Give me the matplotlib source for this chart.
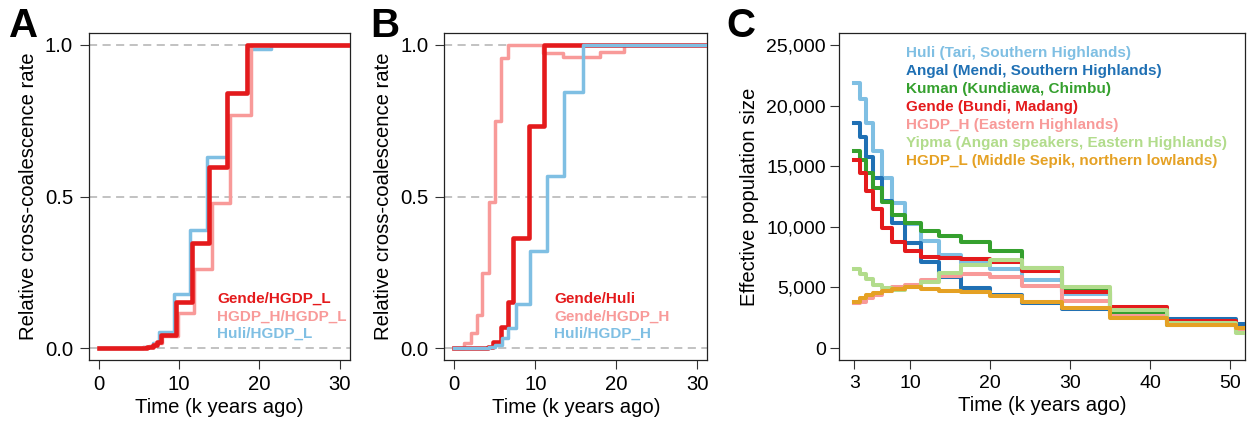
import matplotlib
matplotlib.use("Agg")
import matplotlib.pyplot as plt
import numpy as np

plt.rcParams['font.family'] = ['Liberation Sans', 'DejaVu Sans']

# ---------------- Panel A: relative cross-coalescence rate vs lowland group
a_gende_t = [0, 5.0, 6.0, 6.7, 7.3, 7.7, 9.6, 11.6, 13.7, 16.0, 18.5, 33]
a_gende_v = [0, 0.001, 0.004, 0.01, 0.02, 0.043, 0.151, 0.348, 0.598, 0.843, 1.0, 1.0]
a_hgdph_t = [0, 5.5, 6.3, 7.0, 7.9, 9.8, 11.85, 14.1, 16.3, 18.9, 33]
a_hgdph_v = [0, 0.003, 0.008, 0.018, 0.04, 0.114, 0.26, 0.478, 0.769, 1.0, 1.0]
a_huli_t = [0, 5.5, 6.4, 6.8, 7.5, 9.4, 11.36, 13.5, 16.0, 18.5, 21.4, 33]
a_huli_v = [0, 0.003, 0.008, 0.016, 0.052, 0.178, 0.389, 0.631, 0.84, 0.987, 1.0, 1.0]
a_labels = ["Gende/HGDP_L", "HGDP_H/HGDP_L", "Huli/HGDP_L"]

# ---------------- Panel B: highland pairs
b_gende_huli_t = [0, 3.5, 4.2, 4.8, 5.77, 6.6, 7.3, 9.26, 11.1, 33]
b_gende_huli_v = [0, 0.001, 0.004, 0.021, 0.068, 0.153, 0.362, 0.733, 1.0, 1.0]
b_gende_hgdph_t = [0, 1.2, 2.06, 2.76, 3.46, 4.24, 5.02, 5.77, 6.59, 11.0, 13.4, 18.0, 20.9, 33]
b_gende_hgdph_v = [0, 0.015, 0.048, 0.109, 0.247, 0.483, 0.749, 0.956, 1.0, 0.975, 0.961, 0.978, 1.0, 1.0]
b_huli_hgdph_t = [0, 3.5, 4.3, 5.0, 5.85, 6.67, 7.6, 9.35, 11.4, 13.6, 15.85, 33]
b_huli_hgdph_v = [0, 0.001, 0.004, 0.01, 0.034, 0.065, 0.145, 0.32, 0.568, 0.846, 1.0, 1.0]
b_labels = ["Gende/Huli", "Gende/HGDP_H", "Huli/HGDP_H"]

# ---------------- Panel C: effective population size
c_time = [3.0, 3.68, 4.52, 5.37, 6.43, 7.70, 9.39, 11.30, 13.63, 16.38,
          19.94, 24.0, 28.95, 35.0, 42.08, 50.68, 53.0]
c_huli = [21890, 20515, 18535, 16250, 14000, 11935, 10230, 8855, 7670, 6985,
          6490, 5610, 4430, 3000, 2150, 1650]
c_angal = [18590, 17435, 15785, 14000, 12130, 10340, 8635, 7120, 5885, 4920,
           4375, 3685, 3250, 2950, 2365, 1950]
c_kuman = [16280, 15510, 14465, 13230, 12070, 10970, 10285, 9680, 9240, 8720,
           8030, 6630, 4730, 2860, 1900, 1350]
c_gende = [15510, 14410, 12950, 11440, 9930, 8770, 8030, 7535, 7400, 7315,
           7070, 6380, 4600, 3410, 2250, 1650]
c_hgdph = [3685, 3820, 4100, 4370, 4730, 5005, 5200, 5610, 5940, 6105,
           5885, 5140, 3880, 2665, 2000, 1500]
c_yipma = [6490, 6105, 5665, 5200, 4920, 4785, 5060, 5470, 6160, 6850,
           7260, 6630, 5060, 3100, 2050, 1250]
c_hgdpl = [3820, 4100, 4370, 4565, 4730, 4895, 5005, 4895, 4730, 4620,
           4320, 3820, 3270, 2450, 1900, 1620]
c_labels = ["Huli (Tari, Southern Highlands)",
            "Angal (Mendi, Southern Highlands)",
            "Kuman (Kundiawa, Chimbu)",
            "Gende (Bundi, Madang)",
            "HGDP_H (Eastern Highlands)",
            "Yipma (Angan speakers, Eastern Highlands)",
            "HGDP_L (Middle Sepik, northern lowlands)"]

RED = "#E41A1C"
PINK = "#F89A99"
LBLUE = "#7FBFE3"
DBLUE = "#1F70B4"
GREEN = "#35A02E"
LGREEN = "#B2DC8C"
ORANGE = "#E5A124"
GRID = "#BDBDBD"

LAB = 14.6
TICK = 14.6

fig = plt.figure(figsize=(12.52, 4.25), dpi=100)
W, H = 1252, 425


def box(l, r, t=33, b=360):
    return [l / W, 1 - b / H, (r - l) / W, (b - t) / H]


def style_rate_axes(ax, xlim):
    ax.set_xlim(*xlim)
    ax.set_ylim(-0.0396, 1.0396)
    for y in (0.0, 0.5, 1.0):
        ax.axhline(y, color=GRID, lw=1.3, dashes=(4.5, 3), zorder=0)
    ax.set_xticks([0, 10, 20, 30])
    ax.set_yticks([0.0, 0.5, 1.0])
    ax.set_yticklabels(["0.0", "0.5", "1.0"])
    ax.tick_params(direction="out", length=6.5, width=0.8, labelsize=TICK,
                   color="#333333")
    ax.tick_params(axis="x", pad=4)
    ax.tick_params(axis="y", pad=5)
    ax.set_xlabel("Time (k years ago)", fontsize=LAB, labelpad=3)
    ax.set_ylabel("Relative cross-coalescence rate", fontsize=LAB, labelpad=5)
    for s in ax.spines.values():
        s.set_linewidth(0.9)
        s.set_color("#222222")


# Panel A
axA = fig.add_axes(box(89, 350))
axA.step(a_huli_t, a_huli_v, where="post", color=LBLUE, lw=2.5, zorder=2)
axA.step(a_hgdph_t, a_hgdph_v, where="post", color=PINK, lw=2.5, zorder=3)
axA.step(a_gende_t, a_gende_v, where="post", color=RED, lw=3.3, zorder=4)
style_rate_axes(axA, (-1.21, 31.26))
for i, (lab, col) in enumerate(zip(a_labels, [RED, PINK, LBLUE])):
    axA.text(0.490, 0.1865 - i * 0.0535, lab, color=col, fontsize=11,
             fontweight="bold", transform=axA.transAxes, va="center", ha="left")

# Panel B
axB = fig.add_axes(box(444.3, 707.3))
axB.step(b_gende_hgdph_t, b_gende_hgdph_v, where="post", color=PINK, lw=2.5, zorder=2)
axB.step(b_gende_huli_t, b_gende_huli_v, where="post", color=RED, lw=3.3, zorder=3)
axB.step(b_huli_hgdph_t, b_huli_hgdph_v, where="post", color=LBLUE, lw=2.5, zorder=4)
style_rate_axes(axB, (-1.23, 31.23))
for i, (lab, col) in enumerate(zip(b_labels, [RED, PINK, LBLUE])):
    axB.text(0.418, 0.1865 - i * 0.0535, lab, color=col, fontsize=11,
             fontweight="bold", transform=axB.transAxes, va="center", ha="left")

# Panel C
axC = fig.add_axes(box(839, 1245))
series_c = [c_huli, c_angal, c_kuman, c_gende, c_hgdph, c_yipma, c_hgdpl]
colors_c = [LBLUE, DBLUE, GREEN, RED, PINK, LGREEN, ORANGE]
for k, (vals, col) in enumerate(zip(series_c, colors_c)):
    axC.step(c_time, list(vals) + [vals[-1]], where="post", color=col,
             lw=2.9, zorder=2 + k)
axC.set_xlim(1.1, 51.85)
axC.set_ylim(-990, 25990)
axC.set_xticks([3, 10, 20, 30, 40, 50])
axC.set_yticks([0, 5000, 10000, 15000, 20000, 25000])
axC.set_yticklabels(["0", "5,000", "10,000", "15,000", "20,000", "25,000"])
axC.tick_params(direction="out", length=6.5, width=0.8, labelsize=14,
                color="#333333")
axC.tick_params(axis="x", pad=4)
axC.tick_params(axis="y", pad=3)
axC.set_xlabel("Time (k years ago)", fontsize=LAB, labelpad=3)
axC.set_ylabel("Effective population size", fontsize=LAB, labelpad=5)
for s in axC.spines.values():
    s.set_linewidth(0.9)
    s.set_color("#222222")
for i, (lab, col) in enumerate(zip(c_labels, colors_c)):
    axC.text(0.166, 0.939 - i * 0.0553, lab, color=col, fontsize=11,
             fontweight="bold", transform=axC.transAxes, va="center", ha="left")

# Panel letters
for x, letter in [(9, "A"), (370, "B"), (726, "C")]:
    fig.text(x / W, 1 - 37.3 / H, letter, fontsize=29, fontweight="bold",
             va="baseline", ha="left")

fig.savefig("out.png", dpi=100)
